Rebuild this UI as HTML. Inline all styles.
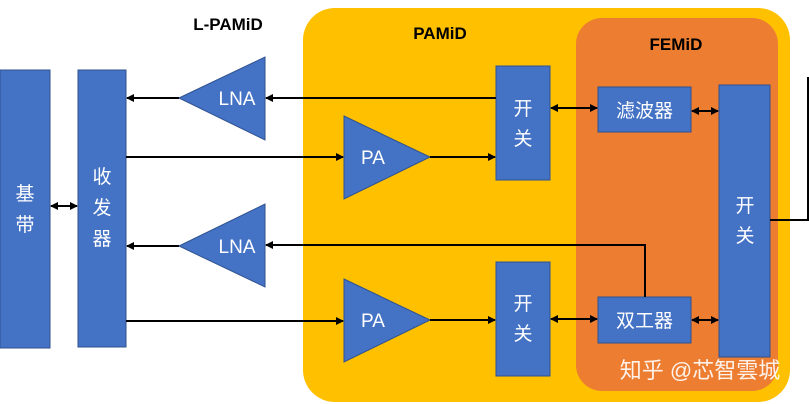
<!DOCTYPE html>
<html><head><meta charset="utf-8"><style>
html,body{margin:0;padding:0;background:#fff;}
svg{display:block;}
text{font-family:"Liberation Sans","Noto Sans CJK SC",sans-serif;}
</style></head><body>
<svg width="809" height="404" viewBox="0 0 809 404" xmlns="http://www.w3.org/2000/svg">
<defs>
<marker id="a" markerWidth="8" markerHeight="8" refX="7" refY="4" orient="auto-start-reverse" markerUnits="userSpaceOnUse"><path d="M0,0 L8,4 L0,8 z" fill="#000"/></marker>
</defs>
<rect x="303" y="8" width="487" height="394" rx="32" fill="#FFC000"/>
<rect x="576" y="18" width="202" height="373" rx="26" fill="#ED7D31"/>
<g fill="#4472C4" stroke="#2F528F" stroke-width="1">
<rect x="0" y="70" width="50" height="278"/>
<rect x="78" y="70" width="48" height="277"/>
<polygon points="179,98 265,57 265,140"/>
<polygon points="179,246 265,204 265,287"/>
<polygon points="344,116 430,157 344,199"/>
<polygon points="344,279 430,320 344,362"/>
<rect x="496" y="66" width="54" height="114"/>
<rect x="496" y="262" width="54" height="114"/>
<rect x="598" y="87" width="93" height="45"/>
<rect x="598" y="297" width="93" height="46"/>
<rect x="719" y="85" width="51" height="272"/>
</g>
<g stroke="#000" stroke-width="2" fill="none">
<line x1="496" y1="98" x2="266" y2="98" marker-end="url(#a)"/>
<line x1="179" y1="98" x2="127" y2="98" marker-end="url(#a)"/>
<line x1="126" y1="157" x2="343" y2="157" marker-end="url(#a)"/>
<line x1="430" y1="157" x2="495" y2="157" marker-end="url(#a)"/>
<line x1="551" y1="108" x2="597" y2="108" marker-start="url(#a)" marker-end="url(#a)"/>
<line x1="692" y1="111" x2="718" y2="111" marker-start="url(#a)" marker-end="url(#a)"/>
<polyline points="645,297 645,245 266,245" marker-end="url(#a)"/>
<line x1="179" y1="246" x2="127" y2="246" marker-end="url(#a)"/>
<line x1="126" y1="321" x2="343" y2="321" marker-end="url(#a)"/>
<line x1="430" y1="320" x2="495" y2="320" marker-end="url(#a)"/>
<line x1="551" y1="319" x2="597" y2="319" marker-start="url(#a)" marker-end="url(#a)"/>
<line x1="692" y1="320" x2="718" y2="320" marker-start="url(#a)" marker-end="url(#a)"/>
<line x1="51" y1="206" x2="77" y2="206" marker-start="url(#a)" marker-end="url(#a)"/>
<polyline points="770,220 808,220 808,77"/>
</g>
<g fill="#fff" font-size="19" text-anchor="middle">
<text x="25" y="200">基</text><text x="25" y="231">带</text>
<text x="102" y="183">收</text><text x="102" y="214">发</text><text x="102" y="245">器</text>
<text x="237" y="105">LNA</text><text x="237" y="253">LNA</text>
<text x="373" y="164">PA</text><text x="373" y="327">PA</text>
<text x="523" y="115">开</text><text x="523" y="145">关</text>
<text x="523" y="310">开</text><text x="523" y="340">关</text>
<text x="644.5" y="117">滤波器</text>
<text x="644.5" y="327">双工器</text>
<text x="745" y="212">开</text><text x="745" y="242">关</text>
</g>
<g font-size="17" font-weight="bold" fill="#000" text-anchor="middle">
<text x="228" y="30">L-PAMiD</text>
<text x="440" y="39">PAMiD</text>
<text x="676" y="50">FEMiD</text>
</g>
<text x="700" y="378" font-size="22" fill="#fff" fill-opacity="0.9" text-anchor="middle">知乎 @芯智雲城</text>
</svg>
</body></html>
